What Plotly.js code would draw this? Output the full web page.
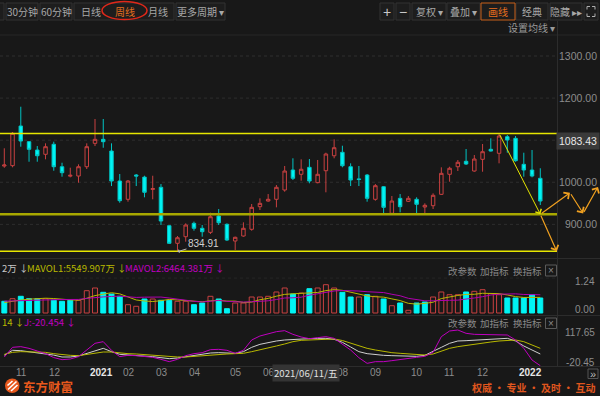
<!DOCTYPE html>
<html><head><meta charset="utf-8">
<script src="https://cdn.plot.ly/plotly-3.0.1.min.js"></script>
<style>html,body{margin:0;padding:0;background:#181818;overflow:hidden}#chart{width:600px;height:396px}</style>
</head><body><div id="chart"></div>
<script>
// ================= DATA =================
const weeks = ['2020-10-30','2020-11-06','2020-11-13','2020-11-20','2020-11-27','2020-12-04','2020-12-11','2020-12-18','2020-12-25','2020-12-31',
 '2021-01-08','2021-01-15','2021-01-22','2021-01-29','2021-02-05','2021-02-10','2021-02-19','2021-02-26','2021-03-05','2021-03-12',
 '2021-03-19','2021-03-26','2021-04-02','2021-04-09','2021-04-16','2021-04-23','2021-04-30','2021-05-07','2021-05-14','2021-05-21',
 '2021-05-28','2021-06-04','2021-06-11','2021-06-18','2021-06-25','2021-07-02','2021-07-09','2021-07-16','2021-07-23','2021-07-30',
 '2021-08-06','2021-08-13','2021-08-20','2021-08-27','2021-09-03','2021-09-10','2021-09-17','2021-09-24','2021-09-30','2021-10-08',
 '2021-10-15','2021-10-22','2021-10-29','2021-11-05','2021-11-12','2021-11-19','2021-11-26','2021-12-03','2021-12-10','2021-12-17',
 '2021-12-24','2021-12-31','2022-01-07','2022-01-14','2022-01-21','2022-01-28'];
const opens = [1038.5,1039.4,1133.6,1096.4,1076.6,1066.4,1090.2,1036.9,1014.5,1014.8,
 1036.9,1092.5,1102,1074.2,1002.9,959.5,1017.2,1012.2,983,988,
 896.7,854.9,870.6,902.4,890.6,881,919.8,900,860.4,872.2,
 888.2,941.9,955.4,959.5,981.6,1029.1,1018.9,1035.5,999,1027.4,
 1063,1071.2,1036.9,1008,1017.2,959.5,989.4,926.2,961.8,954.7,
 959.5,941.2,944.3,971.3,1018.9,1036.9,1049.8,1026.7,1054.5,1078.3,
 1068.8,1108.2,1104.4,1042.6,1029.1,1009.4];
const highs = [1080.7,1119.4,1179.5,1098,1086,1092.5,1096.4,1046.4,1034.6,1042.6,
 1092.5,1150.3,1150.3,1092.5,1019.6,1005.3,1019.6,1015.5,1015.5,995.8,
 898.4,872.2,902.4,906.4,898.4,927.6,936.4,902.4,870.8,904.8,
 948.3,961.8,972,993.4,1038.6,1056.9,1054.5,1055.2,1052.9,1070.2,
 1102,1086.8,1045,1038.6,1019.6,995.8,991,967.3,972,967.3,
 964.2,949.9,973.7,1035.5,1036.9,1052.9,1079,1064.7,1090.9,1104.4,
 1116.3,1112.3,1109.9,1070.2,1076.6,1033.2];
const lows = [1034.5,1035.5,1084.5,1048.8,1048.8,1054.5,1027.4,1013.2,1011.7,999,
 1031.5,1086,1082,991,951.4,953.8,991,964.2,959.5,898.4,
 853.2,834.91,858.7,884.9,870.6,877,898.4,860.4,839,870.6,
 884.9,934,953.8,940.4,977.5,1005.3,1003.7,997.5,997.5,976.1,
 1056.9,1035.5,991,991,953.8,956.2,922.2,924.5,928.5,953,
 924.5,924.5,936.4,969.7,1001.3,1026.7,1041,1025,1025,1073,
 1045,1070.2,1048.8,1013.2,1011.7,945.9];
const closes = [1041,1116.3,1098,1078.3,1063,1084.5,1036.9,1022.7,1016.5,1036.9,
 1084.5,1102,1096.4,1002.9,956.2,1002.9,1014.8,976.1,985,907.9,
 854.9,868.2,898.4,890.6,882.5,918.1,903.9,862.7,869.2,890.6,
 940.4,949.9,959.5,988,1026.7,1009.4,1030.8,1002.9,1018.9,1067.1,
 1082.1,1039.3,1005.3,1006.5,961.8,991.8,940.4,955.4,941.9,961.8,
 947.6,945.2,969,1021.2,1033.2,1047.4,1043.3,1055.2,1072.6,1074.2,
 1109.9,1100.4,1051.2,1029.1,1014.8,955.4];
const prevClose0 = 1045;   // close of the week before the first visible one

// weekly volume, 亿 (1.24 on the axis = 1.24亿)
const volume = [0.415,0.508,0.593,0.508,0.508,0.508,0.451,0.415,0.451,0.451,
 0.792,0.888,0.735,0.675,0.593,0.295,0.238,0.497,0.497,0.451,
 0.451,0.415,0.415,0.295,0.355,0.593,0.497,0.153,0.355,0.355,
 0.568,0.568,0.593,0.746,0.888,0.675,0.71,0.863,0.888,1.005,
 0.888,0.735,0.568,0.568,0.65,0.593,0.497,0.259,0.355,0.096,
 0.355,0.39,0.568,0.746,0.65,0.65,0.746,0.77,0.827,0.685,
 0.65,0.533,0.533,0.533,0.65,0.533];
const mavol1 = [0.37,0.42,0.46,0.49,0.506,0.525,0.514,0.478,0.467,0.455,
 0.523,0.618,0.675,0.720,0.680,0.561,0.462,0.426,0.407,0.438,
 0.481,0.464,0.448,0.417,0.398,0.433,0.450,0.421,0.421,0.374,
 0.388,0.471,0.518,0.597,0.661,0.682,0.705,0.729,0.729,0.795,
 0.830,0.805,0.741,0.653,0.606,0.577,0.563,0.501,0.442,0.343,
 0.315,0.341,0.383,0.513,0.572,0.624,0.660,0.665,0.700,0.707,
 0.688,0.641,0.582,0.551,0.551,0.555];
const mavol2 = [0.42,0.43,0.45,0.46,0.47,0.48,0.48,0.48,0.48,0.481,
 0.519,0.557,0.571,0.587,0.596,0.575,0.553,0.562,0.566,0.566,
 0.532,0.485,0.453,0.415,0.391,0.421,0.447,0.412,0.398,0.388,
 0.400,0.415,0.433,0.478,0.532,0.540,0.561,0.632,0.685,0.750,
 0.782,0.799,0.797,0.779,0.755,0.747,0.726,0.665,0.612,0.521,
 0.468,0.433,0.433,0.451,0.451,0.457,0.482,0.533,0.580,0.639,
 0.668,0.683,0.679,0.658,0.658,0.646];
const kdjK = [20,39,37.7,33.8,29.9,24.8,20.5,13.2,13.2,17,
 27.4,39,46.7,33.8,23.5,20.9,19.6,17,14.5,10.6,
 6.7,9.3,14.5,20.9,24.8,28.6,29.9,29.9,27.4,33.8,
 50.6,62.2,69.9,75.1,79,81.5,82.8,84.1,85.4,85.4,
 81.5,70,52,33.8,26.1,22.2,19.6,18.3,17,15.7,
 15.7,19.6,33.8,50.6,66.1,75.1,76.4,77.7,79,81.5,
 82.8,85.4,75.1,55.7,40.3,24.8];
const kdjD = [23.5,31.2,33.8,33.8,33.8,31.2,26.1,22.2,19.6,18.3,
 22.2,27.4,32.5,32.5,28.6,26.1,24.8,22.2,19.6,17,
 14.5,13.2,13.2,15.7,19.6,22.2,24.8,24.8,26.1,27.4,
 33.8,40.3,48,55.7,63.5,72.5,77.7,79,81.5,81.5,
 82.8,77,66.1,55.7,46.7,40.3,33.8,29.9,27.4,24.8,
 22.2,20.9,24.8,36.4,46.7,53.2,58.3,63.5,67.3,71.2,
 75.1,77.7,78.9,72.5,59.6,46.7];
const kdjJ = [13,50.6,53.2,46.7,36.4,26.1,11,2.8,5.4,14.5,
 40.3,66.1,72.5,39,14.5,19.6,18.3,14.5,11.9,4.1,
 -4.9,4.1,18.3,26.1,29.9,41.5,42.8,39,27.4,39,
 79,94.4,103.5,111.2,115.1,100.9,90.6,84.1,88,91.9,
 85.4,62,40.3,10.6,-11.4,-4.9,-4.9,-1,4.1,8,
 11.9,15.7,31.2,91.9,113.8,117.65,104.8,100.9,100.9,98.3,
 100.9,98.3,79,46.7,1.5,-20.45];

const priceTicks = [900, 1000, 1200, 1300];
const priceTickText = ['900.00', '1000.00', '1200.00', '1300.00'];
const priceGrid = [900, 1000, 1100, 1200, 1300];
const monthWeeks = ['2020-11-06','2020-12-04','2021-01-08','2021-02-05','2021-03-05','2021-04-02','2021-05-07','2021-06-04','2021-08-06','2021-09-03','2021-10-08','2021-11-05','2021-12-03','2022-01-07'];
const monthText = ['11','12','2021','02','03','04','05','06','08','09','10','11','12','2022'];
const volTickVals = [0, 1.24], volTickText = ['0.00', '1.24'];
const kdjTickVals = [-20.45, 117.65], kdjTickText = ['-20.45', '117.65'];
const resistance = 1116, support = 924, floorLine = 836;
const lowWeek = '2021-03-26', lowPrice = 834.91;
const crossPrice = '1083.43', crossDateText = '2021/06/11/五', crossWeek = '2021-06-11';
// hand-drawn analysis lines: [fromWeeksAfterLast, fromPrice, toWeeksAfterLast, toPrice]
const trendFromWeek = '2021-12-24';
const projections = [[0, 924, 2.0, 836], [0, 924, 3.6, 975], [3.6, 975, 5.2, 926], [5.2, 926, 7.0, 989]];
const volHeader = ['2万 ↓', 'MAVOL1:5549.907万 ↓', 'MAVOL2:6464.381万 ↓'];
const kdjHeader = ['14 ↓', 'J:-20.454 ↓'];

// ================= STYLE / LAYOUT =================
const W = 600, H = 396;
const px = x => x / W, py = y => 1 - y / H;
const BG = '#181818', RED = '#c84040', CYAN = '#00f4f4', CYANL = '#00c4c4';
const YEL = '#b8b800', MAG = '#c000c0', GRAYT = '#8c8c8c';
const FONT = 'Liberation Sans, Arial, Noto Sans CJK SC, sans-serif';
const CJK = 'Noto Sans CJK SC, Liberation Sans, sans-serif';
const step = 8.246, firstX = 4.3;           // pixels per week, first candle centre
const xr0 = -firstX / step, xr1 = xr0 + W / step;
const last = weeks.length - 1;

const volUp = closes.map((c, i) => c >= (i ? closes[i - 1] : prevClose0));

const traces = [
  {type: 'candlestick', x: weeks, open: opens, high: highs, low: lows, close: closes,
   xaxis: 'x', yaxis: 'y', whiskerwidth: 0, hoverinfo: 'skip',
   increasing: {line: {color: RED, width: 1}, fillcolor: 'rgba(0,0,0,0)'},
   decreasing: {line: {color: CYANL, width: 1}, fillcolor: CYAN}},
  {type: 'bar', x: weeks, y: volume, xaxis: 'x', yaxis: 'y2', width: 0.6, hoverinfo: 'skip',
   marker: {color: volUp.map(u => u ? 'rgba(0,0,0,0)' : CYAN),
            line: {color: volUp.map(u => u ? RED : CYAN), width: 1}}},
  {type: 'scatter', mode: 'lines', x: weeks, y: mavol1, xaxis: 'x', yaxis: 'y2', line: {color: YEL, width: 1}, hoverinfo: 'skip'},
  {type: 'scatter', mode: 'lines', x: weeks, y: mavol2, xaxis: 'x', yaxis: 'y2', line: {color: '#b000b0', width: 1}, hoverinfo: 'skip'},
  {type: 'scatter', mode: 'lines', x: weeks, y: kdjK, xaxis: 'x', yaxis: 'y3', line: {color: '#cfcfcf', width: 1}, hoverinfo: 'skip'},
  {type: 'scatter', mode: 'lines', x: weeks, y: kdjD, xaxis: 'x', yaxis: 'y3', line: {color: YEL, width: 1}, hoverinfo: 'skip'},
  {type: 'scatter', mode: 'lines', x: weeks, y: kdjJ, xaxis: 'x', yaxis: 'y3', line: {color: MAG, width: 1}, hoverinfo: 'skip'}
];

const shapes = [];
const annotations = [];
const pline = (x0, y0, x1, y1, color, width, dash) => shapes.push({type: 'line', xref: 'paper', yref: 'paper',
  x0: px(x0), y0: py(y0), x1: px(x1), y1: py(y1), line: {color, width, dash: dash || 'solid'}, layer: 'above'});
const prect = (x0, y0, x1, y1, line, fill, lw) => shapes.push({type: 'rect', xref: 'paper', yref: 'paper',
  x0: px(x0), y0: py(y1), x1: px(x1), y1: py(y0), line: {color: line, width: lw === undefined ? 1 : lw}, fillcolor: fill || 'rgba(0,0,0,0)', layer: 'above'});
const ptext = (x, y, text, o) => annotations.push(Object.assign({xref: 'paper', yref: 'paper', x: px(x), y: py(y),
  text, showarrow: false, xanchor: 'center', yanchor: 'middle', font: {family: CJK, size: 10, color: '#a8a8a8'}}, o || {}));
const pathPx = polys => polys.map(pts => pts.map((p, i) => (i ? 'L' : 'M') + px(p[0]).toFixed(5) + ',' + py(p[1]).toFixed(5)).join(' ')).join(' ');

// price grid (dotted) in chart area only
priceGrid.forEach(v => shapes.push({type: 'line', xref: 'paper', yref: 'y', x0: 0, x1: px(557), y0: v, y1: v,
  line: {color: '#2e2e2e', width: 1, dash: 'dot'}, layer: 'below'}));
shapes.push({type: 'line', xref: 'paper', yref: 'y2', x0: 0, x1: px(557), y0: volTickVals[1], y1: volTickVals[1],
  line: {color: '#262626', width: 1, dash: 'dot'}, layer: 'below'});
// support / resistance lines
[[resistance, '#e6e600', 1.5], [support, '#a8a800', 2.5], [floorLine, '#e6e600', 1.5]].forEach(([v, c, w]) =>
  shapes.push({type: 'line', xref: 'paper', yref: 'y', x0: 0, x1: px(557), y0: v, y1: v, line: {color: c, width: w}, layer: 'above'}));
// frame / separators
pline(0, 35, 600, 35, '#262626', 1);
pline(0, 258.5, 600, 258.5, '#2c2c2c', 1);
pline(0, 315.5, 600, 315.5, '#2c2c2c', 1);
pline(0, 366.5, 600, 366.5, '#2c2c2c', 1);
pline(557.5, 21, 557.5, 366.5, '#2c2c2c', 1);

// toolbar
const BTN = '#333333', BTNF = '#1d1d1d';
[[-30, 4, ''], [6, 38, '30分钟'], [40, 72, '60分钟'], [74, 174, ''], [176, 225, '更多周期 ▾'],
 [380, 394, '+'], [396, 410, '−'], [412, 446, '复权 ▾'], [447, 480, '叠加 ▾'], [516, 548, '经典'],
 [550, 582, '隐藏 ▸▸'], [584, 598, '']].forEach(([a, b, t]) => {
  prect(a, 3, b, 20, BTN, BTNF);
  if (t) ptext((a + b) / 2, 11.5, t, (t === '+' || t === '−') ? {font: {family: FONT, size: 14, color: '#c8c8c8'}} : {});
});
prect(481, 3, 515, 20, '#c8601a', BTNF);
ptext(498, 11.5, '画线', {font: {family: CJK, size: 10, color: '#e8701e'}});
ptext(91, 11.5, '日线');
ptext(124.5, 11.5, '周线', {font: {family: CJK, size: 10, color: '#e8701e'}});
ptext(157.5, 11.5, '月线');
shapes.push({type: 'circle', xref: 'paper', yref: 'paper', x0: px(102), x1: px(147), y0: py(19.5), y1: py(1.5),
  line: {color: '#e0281a', width: 1.5}, layer: 'above'});
shapes.push({type: 'path', xref: 'paper', yref: 'paper', layer: 'above', line: {color: '#b0b0b0', width: 1},
  path: pathPx([[[587, 9.5], [587, 6.5], [590, 6.5]], [[592, 6.5], [595, 6.5], [595, 9.5]],
                [[595, 13.5], [595, 16.5], [592, 16.5]], [[590, 16.5], [587, 16.5], [587, 13.5]]])});
ptext(531, 27.5, '设置均线 ▾', {font: {family: CJK, size: 10, color: '#9a9a9a'}});

// crosshair price box
annotations.push({xref: 'paper', yref: 'y', x: 1, y: parseFloat(crossPrice), yshift: 6.5, xanchor: 'right', yanchor: 'middle',
  text: crossPrice, showarrow: false, bgcolor: '#3a3a3a', borderpad: 2, font: {family: FONT, size: 10.5, color: '#e8e8e8'}});

// low marker
annotations.push({xref: 'x', yref: 'y', x: weeks.indexOf(lowWeek), y: lowPrice, text: lowPrice.toFixed(2),
  showarrow: true, axref: 'pixel', ayref: 'pixel', ax: 26, ay: -8, arrowhead: 1, arrowsize: 0.7, arrowwidth: 1,
  arrowcolor: '#b8b8b8', font: {family: FONT, size: 10, color: '#d0d0d0'}});

// drawn trend line + projections
annotations.push({xref: 'x', yref: 'y', axref: 'x', ayref: 'y', x: last, y: support, ax: weeks.indexOf(trendFromWeek),
  ay: resistance, text: '', showarrow: true, arrowhead: 4, arrowsize: 1.3, arrowwidth: 1, arrowcolor: '#e4e400', standoff: 0});
projections.forEach(([a, pa, b, pb]) => annotations.push({xref: 'x', yref: 'y', axref: 'x', ayref: 'y',
  x: last + b, y: pb, ax: last + a, ay: pa, text: '', showarrow: true, arrowhead: 4, arrowsize: 1.3, arrowwidth: 1.2,
  arrowcolor: '#f0a020', standoff: 0, startstandoff: 0}));

// volume panel header + axis labels
ptext(0, 268, volHeader[0], {xanchor: 'left', font: {family: CJK, size: 9.5, color: '#c8c8c8'}});
ptext(25, 268, volHeader[1], {xanchor: 'left', font: {family: CJK, size: 9.5, color: YEL}});
ptext(123, 268, volHeader[2], {xanchor: 'left', font: {family: CJK, size: 9.5, color: MAG}});
[[270.5, 265, 276], [323, 318, 328.5]].forEach(([yy, b0, b1]) => {
  ptext(462, yy, '改参数', {font: {family: CJK, size: 9.5, color: '#8a8a8a'}});
  ptext(494.5, yy, '加指标', {font: {family: CJK, size: 9.5, color: '#8a8a8a'}});
  ptext(527, yy, '换指标', {font: {family: CJK, size: 9.5, color: '#8a8a8a'}});
  prect(545.5, b0, 556.5, b1, '#5a5a5a', 'rgba(0,0,0,0)');
  ptext(551, (b0 + b1) / 2, '×', {font: {family: FONT, size: 10, color: '#8a8a8a'}});
});
volTickVals.forEach((v, i) => annotations.push({xref: 'paper', yref: 'y2', x: px(597), y: v, yshift: i === 0 ? 4 : -3,
  xanchor: 'right', yanchor: 'middle', text: volTickText[i], showarrow: false, font: {family: FONT, size: 10, color: GRAYT}}));

// KDJ header + axis labels
ptext(0, 321.5, kdjHeader[0], {xanchor: 'left', font: {family: CJK, size: 9.5, color: YEL}});
ptext(22, 321.5, kdjHeader[1], {xanchor: 'left', font: {family: CJK, size: 9.5, color: MAG}});
kdjTickVals.forEach((v, i) => annotations.push({xref: 'paper', yref: 'y3', x: px(597), y: v, yshift: i === 0 ? 3 : -2.5,
  xanchor: 'right', yanchor: 'middle', text: kdjTickText[i], showarrow: false, font: {family: FONT, size: 10, color: GRAYT}}));

// date labels, left-aligned at the first candle of each month
monthWeeks.forEach((w, i) => {
  const yr = monthText[i].length === 4;
  annotations.push({xref: 'x', yref: 'paper', x: weeks.indexOf(w), xshift: 2, y: py(372), xanchor: 'left', yanchor: 'middle',
    text: yr ? '<b>' + monthText[i] + '</b>' : monthText[i], showarrow: false, borderpad: 0,
    font: {family: FONT, size: 10, color: yr ? '#e6e6e6' : GRAYT}});
});
annotations.push({xref: 'x', yref: 'paper', x: weeks.indexOf(crossWeek), xshift: 4, y: py(373), xanchor: 'left', yanchor: 'middle',
  text: crossDateText, showarrow: false, bgcolor: '#343434', borderpad: 1, font: {family: CJK, size: 9.6, color: '#e0e0e0'}});
prect(588, 369, 598, 378.5, '#555555', 'rgba(0,0,0,0)');
ptext(593, 373.5, '»', {font: {family: FONT, size: 11, color: '#bbbbbb'}});

// footer
shapes.push({type: 'circle', xref: 'paper', yref: 'paper', x0: px(5), x1: px(19.5), y0: py(393), y1: py(378.5),
  fillcolor: '#e8581c', line: {width: 0}, layer: 'above'});
shapes.push({type: 'path', xref: 'paper', yref: 'paper', layer: 'above', line: {color: '#ffffff', width: 1.6},
  path: pathPx([[[8, 389.5], [16.5, 381.5]], [[11, 391], [17.5, 385]], [[7.5, 385.5], [12.5, 381]]])});
ptext(22, 386.9, '<b>东方财富</b>', {xanchor: 'left', borderpad: 0, font: {family: CJK, size: 12.5, color: '#e8581c'}});
ptext(597, 387, '<b>权威 · 专业 · 及时 · 互动</b>', {xanchor: 'right', borderpad: 0, font: {family: CJK, size: 10, color: '#e0561e'}});

const noAx = {showticklabels: false, ticks: '', showgrid: false, zeroline: false, showline: false, fixedrange: true};
const layout = {
  width: W, height: H, margin: {l: 0, r: 0, t: 0, b: 0, pad: 0},
  paper_bgcolor: BG, plot_bgcolor: BG, showlegend: false, hovermode: false, dragmode: false,
  boxgap: 0.4, font: {family: FONT},
  xaxis: Object.assign({}, noAx, {type: 'category', categoryorder: 'array', categoryarray: weeks,
    range: [xr0, xr1], domain: [0, 1], anchor: 'y3', rangeslider: {visible: false}}),
  yaxis: Object.assign({}, noAx, {domain: [py(258), py(38)], range: [820, 1342.8], side: 'right', anchor: 'x',
    showticklabels: true, tickvals: priceTicks, ticktext: priceTickText, ticklabelposition: 'inside',
    tickfont: {family: FONT, size: 10.5, color: GRAYT}}),
  yaxis2: Object.assign({}, noAx, {domain: [py(315), py(260)], range: [-0.071, 1.8815], anchor: 'x'}),
  yaxis3: Object.assign({}, noAx, {domain: [py(368), py(317)], range: [-29.41, 167.96], anchor: 'x'}),
  shapes, annotations
};
Plotly.newPlot('chart', traces, layout, {staticPlot: true, displayModeBar: false});
</script></body></html>
